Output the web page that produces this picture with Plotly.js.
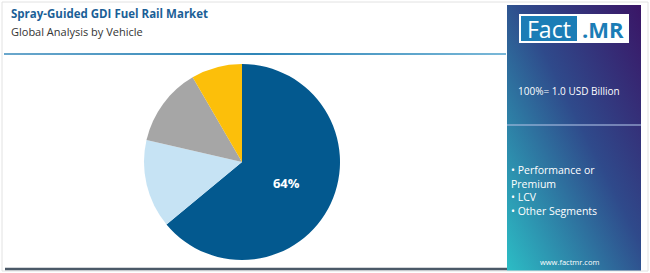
<!DOCTYPE html>
<html>
<head>
<meta charset="utf-8">
<script src="https://cdn.plot.ly/plotly-3.0.1.min.js"></script>
<style>html,body{margin:0;padding:0;background:#fff;}#chart{width:650px;height:273px;}</style>
</head>
<body>
<div id="chart"></div>
<script>
const categories = ["Passenger Car", "Performance or Premium", "LCV", "Other Segments"];
const shares = [64, 14.6, 13.0, 8.4];
const sliceColors = ["#03598f", "#c6e3f4", "#a6a6a6", "#fcbf0a"];
const shownLabels = ["64%", "", "", ""];
const legendItems = ["• Performance or", "Premium", "• LCV", "• Other Segments"];
const titleText = "Spray-Guided GDI Fuel Rail Market";
const subtitleText = "Global Analysis by Vehicle";
const totalText = "100%= 1.0 USD Billion";

const W = 650, H = 273;
const px = x => x / W;
const py = y => 1 - y / H;

const gradSvg = '<svg xmlns="http://www.w3.org/2000/svg" width="134" height="266" viewBox="0 0 134 266" preserveAspectRatio="none">' +
  '<defs><linearGradient id="g" x1="1" y1="0" x2="0" y2="1">' +
  '<stop offset="0" stop-color="#3a1566"/>' +
  '<stop offset="0.45" stop-color="#2f4a8b"/>' +
  '<stop offset="1" stop-color="#2cbdc5"/>' +
  '</linearGradient></defs><rect width="134" height="266" fill="url(#g)"/></svg>';
const lineSvg = '<svg xmlns="http://www.w3.org/2000/svg" width="502" height="2" viewBox="0 0 502 2" preserveAspectRatio="none">' +
  '<defs><linearGradient id="h" x1="0" y1="0" x2="1" y2="0">' +
  '<stop offset="0" stop-color="#6aa7cc"/><stop offset="0.5" stop-color="#2f86b8"/><stop offset="1" stop-color="#7ab8d8"/>' +
  '</linearGradient></defs><rect width="502" height="2" fill="url(#h)"/></svg>';

const data = [{
  type: "pie",
  labels: categories,
  values: shares,
  sort: false,
  direction: "clockwise",
  rotation: 0,
  marker: {colors: sliceColors, line: {width: 0}},
  text: shownLabels,
  textinfo: "text",
  textposition: "inside",
  insidetextorientation: "horizontal",
  textfont: {family: "Open Sans, sans-serif", size: 13, color: "#ffffff", weight: "bold"},
  hoverinfo: "label+percent",
  showlegend: false,
  domain: {x: [px(144), px(340)], y: [py(260), py(64)]}
}];

const layout = {
  width: W, height: H,
  margin: {l: 0, r: 0, t: 0, b: 0},
  paper_bgcolor: "#ffffff",
  plot_bgcolor: "#ffffff",
  showlegend: false,
  images: [
    {source: "data:image/svg+xml;charset=utf-8," + encodeURIComponent(gradSvg), xref: "paper", yref: "paper",
     x: px(507), y: py(5), sizex: px(134), sizey: 266 / H, sizing: "stretch", xanchor: "left", yanchor: "top", layer: "below"},
    {source: "data:image/svg+xml;charset=utf-8," + encodeURIComponent(lineSvg), xref: "paper", yref: "paper",
     x: px(4), y: py(53), sizex: px(502), sizey: 2 / H, sizing: "stretch", xanchor: "left", yanchor: "top", layer: "above"}
  ],
  shapes: [
    {type: "rect", xref: "paper", yref: "paper", x0: px(2), x1: px(648), y0: py(271), y1: py(2), line: {color: "#e2e2e2", width: 1}, fillcolor: "rgba(0,0,0,0)", layer: "below"},
    {type: "line", xref: "paper", yref: "paper", x0: px(5), x1: px(507), y0: py(269), y1: py(269), line: {color: "#4b5968", width: 2.5}},
    {type: "line", xref: "paper", yref: "paper", x0: px(507), x1: px(641), y0: py(125), y1: py(125), line: {color: "rgba(170,190,225,0.75)", width: 1.5}},
    {type: "rect", xref: "paper", yref: "paper", x0: px(519), x1: px(629), y0: py(43), y1: py(14), line: {width: 0}, fillcolor: "#ffffff"},
    {type: "rect", xref: "paper", yref: "paper", x0: px(521), x1: px(577), y0: py(41), y1: py(16), line: {width: 0}, fillcolor: "#1b7db6"}
  ],
  annotations: [
    {text: "<b>" + titleText + "</b>", xref: "paper", yref: "paper", x: px(9), y: py(13), xanchor: "left", yanchor: "middle", showarrow: false,
     font: {family: "Open Sans, sans-serif", size: 11.5, color: "#1b5f97"}},
    {text: subtitleText, xref: "paper", yref: "paper", x: px(9), y: py(31), xanchor: "left", yanchor: "middle", showarrow: false,
     font: {family: "Open Sans, sans-serif", size: 11, color: "#333333"}},
    {text: "Fact", xref: "paper", yref: "paper", x: px(549), y: py(29), xanchor: "center", yanchor: "middle", showarrow: false,
     font: {family: "Open Sans, sans-serif", size: 23, color: "#ffffff"}},
    {text: "<b>.MR</b>", xref: "paper", yref: "paper", x: px(603), y: py(29), xanchor: "center", yanchor: "middle", showarrow: false,
     font: {family: "Open Sans, sans-serif", size: 22, color: "#1b7db6"}},
    {text: totalText, xref: "paper", yref: "paper", x: px(569), y: py(91), xanchor: "center", yanchor: "middle", showarrow: false,
     font: {family: "Open Sans, sans-serif", size: 10, color: "#ffffff"}},
    {text: legendItems.join("<br>"), xref: "paper", yref: "paper", x: px(509), y: py(190), xanchor: "left", yanchor: "middle", align: "left", showarrow: false,
     font: {family: "Open Sans, sans-serif", size: 10.5, color: "#ffffff"}},
    {text: "www.factmr.com", xref: "paper", yref: "paper", x: px(569), y: py(262), xanchor: "center", yanchor: "middle", showarrow: false,
     font: {family: "Open Sans, sans-serif", size: 7.5, color: "#ffffff"}}
  ]
};

Plotly.newPlot("chart", data, layout, {displayModeBar: false, staticPlot: true});
</script>
</body>
</html>
